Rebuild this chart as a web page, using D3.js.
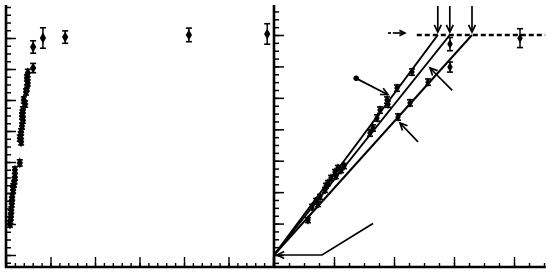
<!DOCTYPE html>
<html><head><meta charset="utf-8">
<script src="https://cdn.jsdelivr.net/npm/d3@7"></script>
<style>body{margin:0;background:#fff}svg{display:block}</style>
</head><body>
<script>
// ---- data ----
// Left panel: points with error bars
const leftX   = [0.09,0.10,0.11,0.11,0.12,0.13,0.13,0.14,0.16,0.16,0.18,0.19,0.20,0.20,0.31,0.34,0.31,0.33,0.34,0.36,0.38,0.36,0.37,0.38,0.43,0.40,0.45,0.47,0.49,0.47,0.49,0.61,0.61,0.83,1.33,4.11,5.87];
const leftY   = [1.00,1.12,1.23,1.34,1.45,1.65,1.76,1.87,2.10,2.20,2.29,2.40,2.52,2.74,2.97,3.65,3.77,3.87,3.97,4.16,4.35,4.48,4.58,4.68,4.87,5.00,5.26,5.39,5.55,5.71,5.87,6.03,6.71,7.00,7.03,7.10,7.13];
const leftErr = [0.10,0.10,0.10,0.10,0.10,0.10,0.10,0.10,0.10,0.10,0.10,0.10,0.10,0.10,0.10,0.10,0.10,0.10,0.10,0.10,0.10,0.10,0.10,0.10,0.10,0.10,0.10,0.10,0.10,0.10,0.12,0.15,0.20,0.33,0.20,0.22,0.33];
// Right panel: points with error bars
const rightX   = [0.567,0.633,0.700,0.733,0.767,0.850,0.867,0.900,0.950,1.017,1.033,1.067,1.117,1.167,1.600,1.650,1.717,1.767,1.883,1.900,2.050,2.067,2.300,2.267,2.567,2.933,2.933,4.100];
const rightY   = [1.11,1.53,1.72,1.62,1.85,2.07,2.20,2.29,2.45,2.64,2.51,2.77,2.70,2.83,3.88,4.04,4.36,4.61,4.93,4.80,5.31,4.39,5.82,4.84,5.50,6.71,5.98,6.90];
const rightErr = [0.08,0.08,0.08,0.08,0.08,0.08,0.08,0.08,0.08,0.08,0.08,0.08,0.08,0.08,0.10,0.10,0.10,0.10,0.10,0.10,0.10,0.10,0.10,0.10,0.10,0.21,0.16,0.30];
// Right panel: three straight lines from the origin, ending on the plateau
const lineEnds   = [2.73, 2.93, 3.30];
const plateauY   = 7;
const plateauX   = [2.38, 4.52];
// Tick values
const leftXTicks  = [0,1,2,3,4,5,6];
const rightXTicks = [0,1,2,3,4];
const yTicks      = [0,1,2,3,4,5,6,7];

// ---- layout ----
const W = 552, H = 274;
const svg = d3.select("body").append("svg").attr("width", W).attr("height", H);
const ink = "#000";

const lx = d3.scaleLinear().domain([0, 6]).range([6, 273]);
const ly = d3.scaleLinear().domain([0, 7]).range([255, 38]);
const rx = d3.scaleLinear().domain([0, 4]).range([274, 514]);
const ry = d3.scaleLinear().domain([0, 7]).range([255, 35]);

function range(a, b, s) { const r = []; for (let v = a; v <= b + 1e-9; v += s) r.push(+v.toFixed(4)); return r; }

function axes(g, x, y, xMaj, xMinStep, xMax, yMin, yMax) {
  const yBottom = 267;
  const xa = g.append("g").attr("transform", `translate(0,${yBottom})`);
  xa.call(d3.axisBottom(x).tickValues(range(0, xMax, xMinStep)).tickSize(-4).tickFormat(""));
  xa.append("g").call(d3.axisBottom(x).tickValues(xMaj).tickSize(-10).tickFormat(""));
  xa.selectAll(".domain").remove();
  xa.selectAll("line").attr("stroke", ink).attr("stroke-width", 1.4);
  g.append("line").attr("x1", x.range()[0] - 1).attr("x2", x(xMax)).attr("y1", yBottom).attr("y2", yBottom)
    .attr("stroke", ink).attr("stroke-width", 2.4);
  const ya = g.append("g").attr("transform", `translate(${x(0)},0)`);
  ya.call(d3.axisLeft(y).tickValues(range(-0.25, yMax, 0.25)).tickSize(-5).tickFormat(""));
  ya.append("g").call(d3.axisLeft(y).tickValues(yTicks).tickSize(-10).tickFormat(""));
  ya.selectAll(".domain").remove();
  ya.selectAll("line").attr("stroke", ink).attr("stroke-width", 1.5);
  g.append("line").attr("x1", x(0)).attr("x2", x(0)).attr("y1", 5).attr("y2", yBottom + 1)
    .attr("stroke", ink).attr("stroke-width", 2.6);
}

const gl = svg.append("g");
axes(gl, lx, ly, leftXTicks, 0.2, 6, -0.25, 8);
const gr = svg.append("g");
axes(gr, rx, ry, rightXTicks, 0.25, 4.53, -0.25, 7.75);

function points(g, x, y, xs, ys, es, size) {
  const d = xs.map((v, i) => ({ x: v, y: ys[i], e: es[i] }));
  const p = g.append("g").selectAll("g").data(d).join("g");
  p.append("line").attr("x1", q => x(q.x)).attr("x2", q => x(q.x))
    .attr("y1", q => y(q.y - q.e)).attr("y2", q => y(q.y + q.e)).attr("stroke", ink).attr("stroke-width", 1.5);
  [-1, 1].forEach(s => p.append("line").attr("x1", q => x(q.x) - 3).attr("x2", q => x(q.x) + 3)
    .attr("y1", q => y(q.y + s * q.e)).attr("y2", q => y(q.y + s * q.e)).attr("stroke", ink).attr("stroke-width", 1.6));
  p.append("path").attr("d", d3.symbol(d3.symbolDiamond, size)())
    .attr("transform", q => `translate(${x(q.x)},${y(q.y)})`).attr("fill", ink);
}
points(gl, lx, ly, leftX, leftY, leftErr, 34);

gr.selectAll(".fit").data(lineEnds).join("line")
  .attr("x1", rx(0)).attr("y1", ry(0)).attr("x2", d => rx(d)).attr("y2", ry(plateauY))
  .attr("stroke", ink).attr("stroke-width", 2);
gr.append("line").attr("x1", rx(plateauX[0])).attr("x2", rx(plateauX[1]))
  .attr("y1", ry(plateauY)).attr("y2", ry(plateauY))
  .attr("stroke", ink).attr("stroke-width", 2.4).attr("stroke-dasharray", "5,3");
points(gr, rx, ry, rightX, rightY, rightErr, 26);

function arrow(pts, head = 6, dot = false) {
  gr.append("path").attr("d", d3.line()(pts)).attr("fill", "none").attr("stroke", ink).attr("stroke-width", 1.7);
  const [a, b] = [pts[pts.length - 2], pts[pts.length - 1]];
  const ang = Math.atan2(b[1] - a[1], b[0] - a[0]);
  const h1 = [b[0] - head * Math.cos(ang - 0.45), b[1] - head * Math.sin(ang - 0.45)];
  const h2 = [b[0] - head * Math.cos(ang + 0.45), b[1] - head * Math.sin(ang + 0.45)];
  gr.append("path").attr("d", d3.line()([h1, b, h2])).attr("fill", "none").attr("stroke", ink).attr("stroke-width", 1.7);
  if (dot) gr.append("circle").attr("cx", pts[0][0]).attr("cy", pts[0][1]).attr("r", 2.8).attr("fill", ink);
}
lineEnds.forEach(v => arrow([[rx(v), 6], [rx(v), ry(plateauY) - 3]], 8));
arrow([[rx(1.85), ry(plateauY) - 2], [rx(2.18), ry(plateauY) - 2]], 6);
gr.append("line").attr("x1", rx(1.85)).attr("x2", rx(1.98)).attr("y1", ry(plateauY) - 2).attr("y2", ry(plateauY) - 2)
  .attr("stroke", "#fff").attr("stroke-width", 2).attr("stroke-dasharray", "3,3");
arrow([[rx(1.37), ry(5.62)], [rx(1.9), ry(5.1)]], 8, true);
arrow([[rx(2.97), ry(5.24)], [rx(2.6), ry(5.95)]], 8);
arrow([[rx(2.4), ry(3.6)], [rx(2.1), ry(4.2)]], 8);
arrow([[rx(1.65), ry(1.0)], [rx(0.8), ry(0)], [rx(0.05), ry(0)]], 8);
</script>
</body></html>
